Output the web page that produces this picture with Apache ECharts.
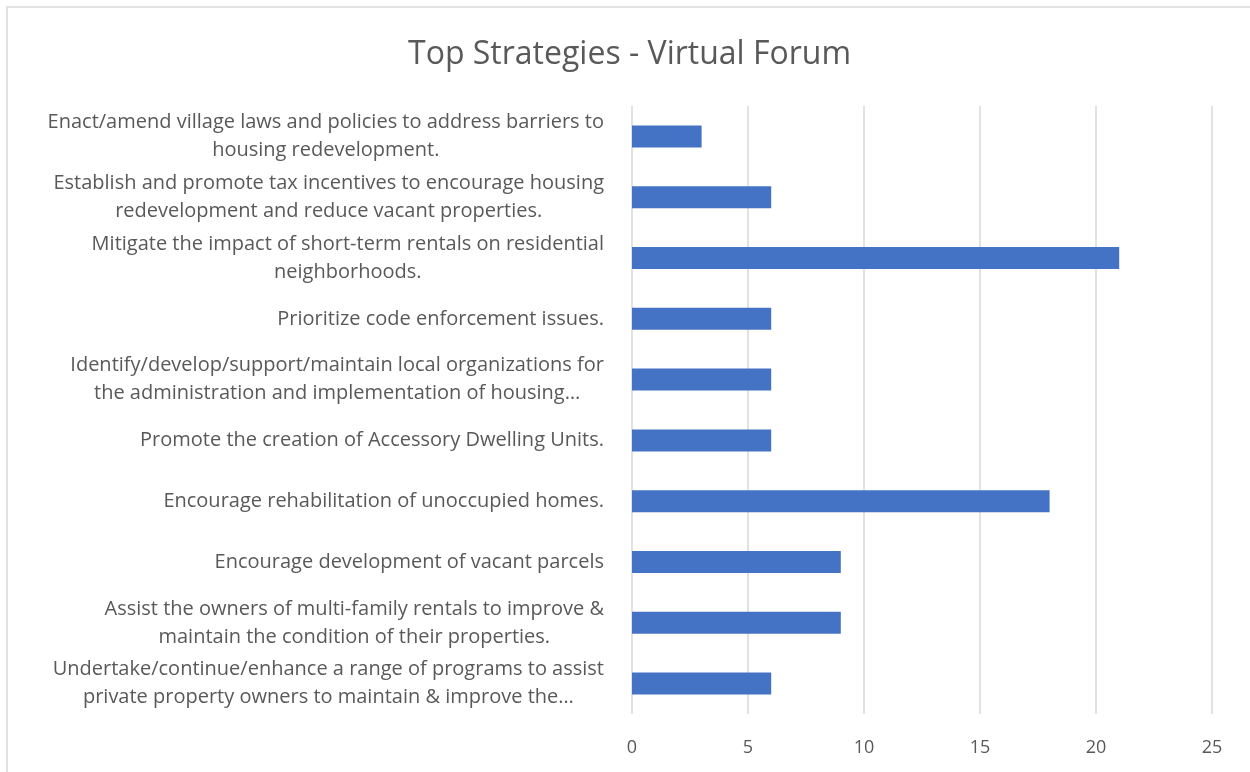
<!DOCTYPE html>
<html>
<head>
<meta charset="utf-8">
<script src="https://cdn.jsdelivr.net/npm/echarts@6/dist/echarts.min.js"></script>
<style>
html,body{margin:0;padding:0;background:#fff;}
#chart{width:1250px;height:772px;}
</style>
</head>
<body>
<div id="chart"></div>
<script>
const titleText = 'Top Strategies - Virtual Forum';
const categories = [
  'Enact/amend village laws and policies to address barriers to\nhousing redevelopment.',
  'Establish and promote tax incentives to encourage housing\nredevelopment and reduce vacant properties.',
  'Mitigate the impact of short-term rentals on residential\nneighborhoods.',
  'Prioritize code enforcement issues.',
  'Identify/develop/support/maintain local organizations for\nthe administration and implementation of housing\u2026',
  'Promote the creation of Accessory Dwelling Units.',
  'Encourage rehabilitation of unoccupied homes.',
  'Encourage development of vacant parcels',
  'Assist the owners of multi-family rentals to improve &\nmaintain the condition of their properties.',
  'Undertake/continue/enhance a range of programs to assist\nprivate property owners to maintain & improve the\u2026'
];
const values = [3, 6, 21, 6, 6, 6, 18, 9, 9, 6];
const xTicks = [0, 5, 10, 15, 20, 25];

const FONT = 'Open Sans';
const LABEL_SIZE = 20;
const chart = echarts.init(document.getElementById('chart'), null, {renderer: 'canvas'});
chart.setOption({
  animation: false,
  backgroundColor: '#ffffff',
  title: {
    text: titleText,
    left: 408,
    top: 39,
    padding: 0,
    textStyle: {fontFamily: FONT, fontSize: 32, fontWeight: 'normal', color: '#595959'}
  },
  graphic: [{
    type: 'rect', silent: true, z: -10,
    shape: {x: 7, y: 7, width: 1300, height: 800},
    style: {fill: 'none', stroke: '#d9d9d9', lineWidth: 1.5}
  }],
  grid: {left: 632, right: 38, top: 106, bottom: 58, containLabel: false},
  xAxis: {
    type: 'value',
    min: xTicks[0], max: xTicks[xTicks.length - 1], interval: 5,
    axisLine: {show: false},
    axisTick: {show: false},
    splitLine: {show: true, lineStyle: {color: '#d9d9d9', width: 1.5}},
    axisLabel: {margin: 25, fontFamily: FONT, fontSize: 18, color: '#595959'}
  },
  yAxis: {
    type: 'category',
    inverse: true,
    data: categories,
    axisLine: {show: false},
    axisTick: {show: false},
    axisLabel: {
      margin: 28,
      fontFamily: FONT, fontSize: LABEL_SIZE, color: '#595959', lineHeight: 28,
      formatter: function (v) {
        return v.split('\n').map(function (l) { return '{c|' + l + '}'; }).join('\n');
      },
      rich: {c: {align: 'center', fontFamily: FONT, fontSize: LABEL_SIZE, color: '#595959', lineHeight: 28}}
    }
  },
  series: [{
    type: 'bar',
    data: values,
    barWidth: 22,
    itemStyle: {color: '#4472C4'}
  }]
});
</script>
</body>
</html>
